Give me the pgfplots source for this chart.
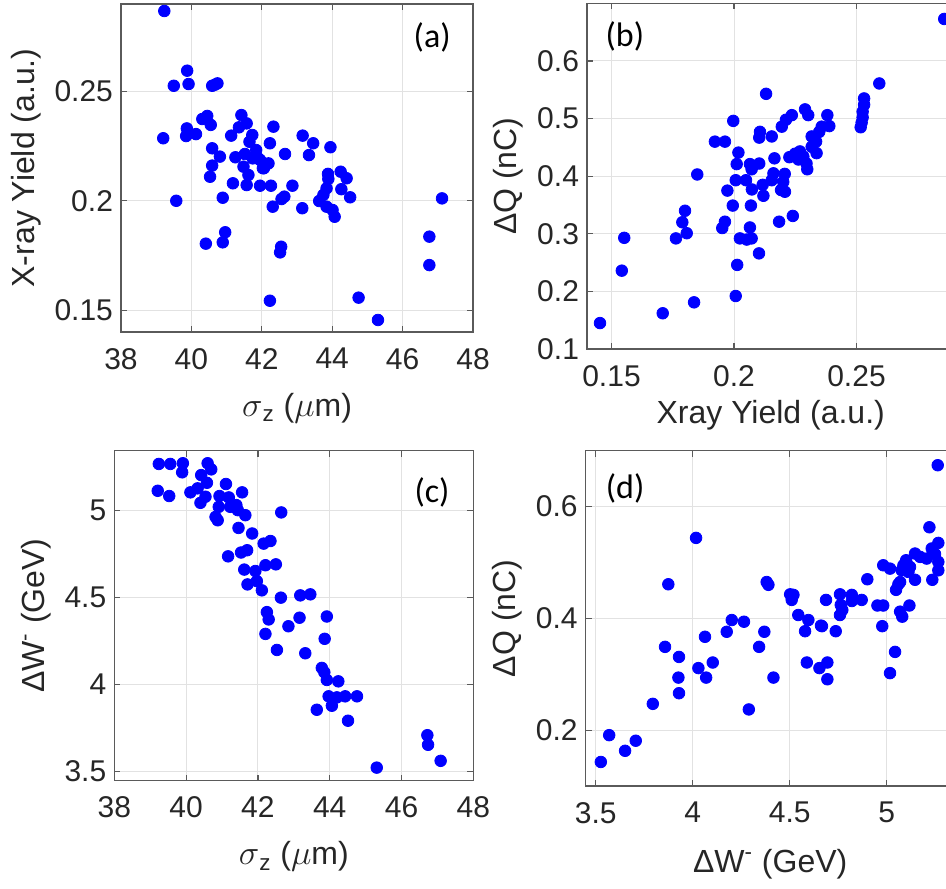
\documentclass[border=0pt]{standalone}
\usepackage{fontspec}
\setmainfont{Liberation Sans}
\newfontfamily\calibri{Carlito}
\usepackage{pgfplots}
\pgfplotsset{compat=1.18}
\definecolor{framegray}{RGB}{90,90,90}
\definecolor{gridgray}{RGB}{226,226,226}
\definecolor{labgray}{RGB}{38,38,38}
\definecolor{dotblue}{RGB}{0,0,255}
\tikzset{plabel/.style={font=\calibri\fontsize{17}{20}\selectfont, text=black}}
\pgfplotsset{
  mstyle/.style={
    scale only axis, anchor=south west,
    axis line style={draw=framegray, line width=0.6pt},
    every tick/.style={draw=framegray, line width=0.6pt},
    tick align=inside, major tick length=3pt,
    grid=major, major grid style={draw=gridgray, line width=0.5pt},
    scaled ticks=false,
    /pgf/number format/assume math mode=true,
    ticklabel style={font=\fontsize{15}{17}\selectfont, text=labgray},
    xticklabel shift=4.5pt, yticklabel shift=0.5pt,
    label style={font=\fontsize{16}{19}\selectfont, text=labgray},
    clip=false,
  },
  dots/.style={only marks, mark=*, mark size=2.9pt, color=dotblue, mark options={draw=dotblue, fill=dotblue}},
}
\begin{document}
\begin{tikzpicture}
\path[use as bounding box] (0,0) rectangle (473pt,444pt);
% (a)
\begin{axis}[mstyle, at={(60.5pt,278pt)}, width=176pt, height=164pt,
  xmin=38, xmax=48, ymin=0.14, ymax=0.29,
  xtick={38,40,42,44,46,48}, ytick={0.15,0.2,0.25},
  xlabel={$\sigma$\textsubscript{z} ($\mu$m)}, ylabel={X-ray Yield (a.u.)},
  xlabel style={yshift=-5pt}]
\addplot[dots] coordinates {
(39.23,0.2868) (39.88,0.2595) (39.50,0.2526) (39.92,0.2534) (40.59,0.2526) (40.74,0.2537) (40.67,0.2531)
(39.20,0.2286) (39.87,0.2331) (39.85,0.2296) (40.13,0.2305) (40.31,0.2374) (40.45,0.2388) (40.55,0.2347)
(40.59,0.2240) (40.81,0.2202) (40.59,0.2161) (40.53,0.2110) (39.57,0.2000) (40.89,0.2014) (40.96,0.1856)
(40.89,0.1810) (40.41,0.1804) (41.13,0.2298) (41.42,0.2392) (41.57,0.2354) (41.35,0.2336) (41.25,0.2199)
(41.18,0.2080) (41.48,0.2156) (41.62,0.2118) (41.57,0.2072) (41.73,0.2301) (41.65,0.2270) (41.84,0.2232)
(41.52,0.2214) (41.74,0.2194) (41.95,0.2187) (42.03,0.2149) (42.19,0.2171) (41.95,0.2069) (42.26,0.2069)
(42.23,0.2263) (42.33,0.2339) (42.66,0.2214) (42.87,0.2069) (42.64,0.2019) (42.56,0.2008) (42.31,0.1973)
(42.55,0.1790) (42.52,0.1764) (42.23,0.1543) (43.16,0.2298) (43.46,0.2263) (43.34,0.2209) (43.95,0.2245)
(43.15,0.1966) (43.88,0.2123) (43.89,0.2100) (43.84,0.2057) (43.75,0.2027) (43.63,0.1999) (43.84,0.1973)
(44.01,0.1958) (44.07,0.1927) (44.24,0.2133) (44.41,0.2103) (44.26,0.2053) (44.51,0.2016) (44.75,0.1557)
(45.30,0.1455) (46.76,0.1836) (46.76,0.1706) (47.12,0.2011) (41.90,0.2194) (42.06,0.2149)
};
\node[plabel] at (rel axis cs:0.884,0.899) {(a)};
\end{axis}
% (b)
\begin{axis}[mstyle, at={(293.5pt,269.5pt)}, width=183.75pt, height=172.8pt,
  xmin=0.14, xmax=0.29, ymin=0.1, ymax=0.7,
  xtick={0.15,0.2,0.25}, ytick={0.1,0.2,0.3,0.4,0.5,0.6},
  xlabel={Xray Yield (a.u.)}, ylabel={ΔQ (nC)}]
\addplot[dots] coordinates {
(0.2858,0.673) (0.2593,0.561) (0.2531,0.535) (0.2531,0.524) (0.2525,0.512) (0.2525,0.502) (0.2521,0.493)
(0.2517,0.485) (0.2131,0.543) (0.1997,0.496) (0.1922,0.460) (0.1963,0.460) (0.1850,0.403) (0.2018,0.441)
(0.2011,0.421) (0.2007,0.393) (0.1973,0.375) (0.1995,0.349) (0.1800,0.340) (0.1789,0.320) (0.1807,0.301)
(0.1763,0.292) (0.1552,0.293) (0.1542,0.236) (0.1453,0.145) (0.1709,0.162) (0.1837,0.181) (0.2007,0.192)
(0.2013,0.246) (0.2102,0.266) (0.1963,0.321) (0.1952,0.310) (0.2024,0.292) (0.2052,0.290) (0.2072,0.292)
(0.2065,0.311) (0.2069,0.349) (0.2073,0.377) (0.2049,0.393) (0.2065,0.421) (0.2103,0.422) (0.2072,0.412)
(0.2120,0.366) (0.2117,0.385) (0.2154,0.393) (0.2161,0.405) (0.2165,0.431) (0.2184,0.321) (0.2240,0.331)
(0.2192,0.376) (0.2208,0.373) (0.2201,0.390) (0.2207,0.404) (0.2106,0.477) (0.2103,0.467) (0.2154,0.469)
(0.2195,0.486) (0.2212,0.498) (0.2236,0.506) (0.2290,0.516) (0.2303,0.506) (0.2381,0.506) (0.2389,0.487)
(0.2358,0.486) (0.2348,0.477) (0.2317,0.469) (0.2335,0.460) (0.2337,0.440) (0.2317,0.451) (0.2226,0.433)
(0.2249,0.439) (0.2269,0.443) (0.2283,0.434) (0.2296,0.422) (0.2299,0.412) (0.2263,0.429)
};
\node[plabel] at (rel axis cs:0.103,0.903) {(b)};
\end{axis}
% (c)
\begin{axis}[mstyle, at={(57.15pt,53.65pt)}, width=179.5pt, height=165pt,
  xmin=38, xmax=48, ymin=3.448, ymax=5.341,
  xtick={38,40,42,44,46,48}, ytick={3.5,4,4.5,5},
  xlabel={$\sigma$\textsubscript{z} ($\mu$m)}, ylabel={ΔW\textsuperscript{-} (GeV)},
  xlabel style={yshift=-5pt}]
\addplot[dots] coordinates {
(39.24,5.265) (39.56,5.265) (39.91,5.269) (39.89,5.217) (39.21,5.111) (39.53,5.081) (40.60,5.269)
(40.70,5.234) (40.42,5.201) (40.58,5.157) (40.12,5.102) (40.32,5.125) (40.54,5.077) (40.40,5.042)
(41.11,5.150) (41.56,5.102) (40.93,5.081) (41.19,5.073) (40.91,5.019) (41.23,5.019) (41.40,5.029)
(41.44,5.000) (41.65,4.971) (40.82,4.961) (40.88,4.942) (42.65,4.987) (41.46,4.898) (41.84,4.866)
(42.16,4.808) (42.35,4.823) (41.17,4.735) (41.53,4.757) (41.70,4.770) (41.62,4.659) (41.93,4.651)
(42.21,4.684) (42.50,4.689) (41.71,4.574) (41.97,4.593) (42.11,4.540) (42.64,4.498) (43.18,4.511)
(43.46,4.517) (42.25,4.415) (42.30,4.373) (42.21,4.290) (42.85,4.334) (43.16,4.383) (43.92,4.390)
(43.86,4.262) (42.53,4.198) (43.32,4.179) (43.78,4.095) (43.85,4.070) (43.92,4.026) (44.24,4.018)
(43.97,3.932) (44.06,3.878) (44.20,3.926) (44.43,3.932) (44.76,3.932) (43.64,3.855) (44.51,3.792)
(45.31,3.523) (46.72,3.709) (46.74,3.654) (47.09,3.562)
};
\node[plabel] at (rel axis cs:0.885,0.875) {(c)};
\end{axis}
% (d)
\begin{axis}[mstyle, at={(292.85pt,51pt)}, width=184.45pt, height=167.65pt,
  xmin=3.448, xmax=5.35, ymin=0.1, ymax=0.7,
  xtick={3.5,4,4.5,5}, ytick={0.2,0.4,0.6},
  xlabel={ΔW\textsuperscript{-} (GeV)}, ylabel={ΔQ (nC)},
  xlabel style={yshift=-6pt}]
\addplot[dots] coordinates {
(5.263,0.674) (5.220,0.563) (4.017,0.544) (3.874,0.461) (4.381,0.465) (4.390,0.460) (4.502,0.443)
(4.519,0.442) (4.510,0.433) (4.544,0.406) (4.596,0.397) (4.579,0.377) (4.661,0.387) (4.687,0.433)
(4.737,0.377) (4.759,0.443) (4.763,0.424) (4.771,0.415) (4.759,0.406) (4.820,0.442) (4.820,0.431)
(4.871,0.433) (4.900,0.470) (4.952,0.423) (4.982,0.423) (4.977,0.386) (4.982,0.495) (5.017,0.489)
(5.043,0.340) (5.017,0.302) (5.048,0.451) (5.060,0.461) (5.069,0.412) (5.080,0.403) (5.117,0.423)
(5.266,0.535) (5.232,0.525) (5.249,0.515) (5.266,0.501) (5.206,0.507) (5.172,0.510) (5.146,0.516)
(5.100,0.504) (5.086,0.495) (5.120,0.492) (5.112,0.483) (5.077,0.486) (5.266,0.486) (5.146,0.469)
(5.235,0.469) (5.069,0.465) (4.666,0.386) (4.201,0.397) (4.175,0.376) (4.264,0.394) (4.369,0.376)
(4.342,0.349) (4.063,0.367) (4.103,0.321) (4.029,0.311) (4.069,0.294) (3.857,0.349) (3.929,0.331)
(3.926,0.294) (3.929,0.266) (3.794,0.247) (4.416,0.294) (4.289,0.237) (4.588,0.321) (4.653,0.311)
(4.694,0.321) (4.694,0.291) (3.569,0.191) (3.651,0.163) (3.706,0.181) (3.526,0.143)
};
\node[plabel] at (rel axis cs:0.107,0.889) {(d)};
\end{axis}
\end{tikzpicture}
\end{document}
